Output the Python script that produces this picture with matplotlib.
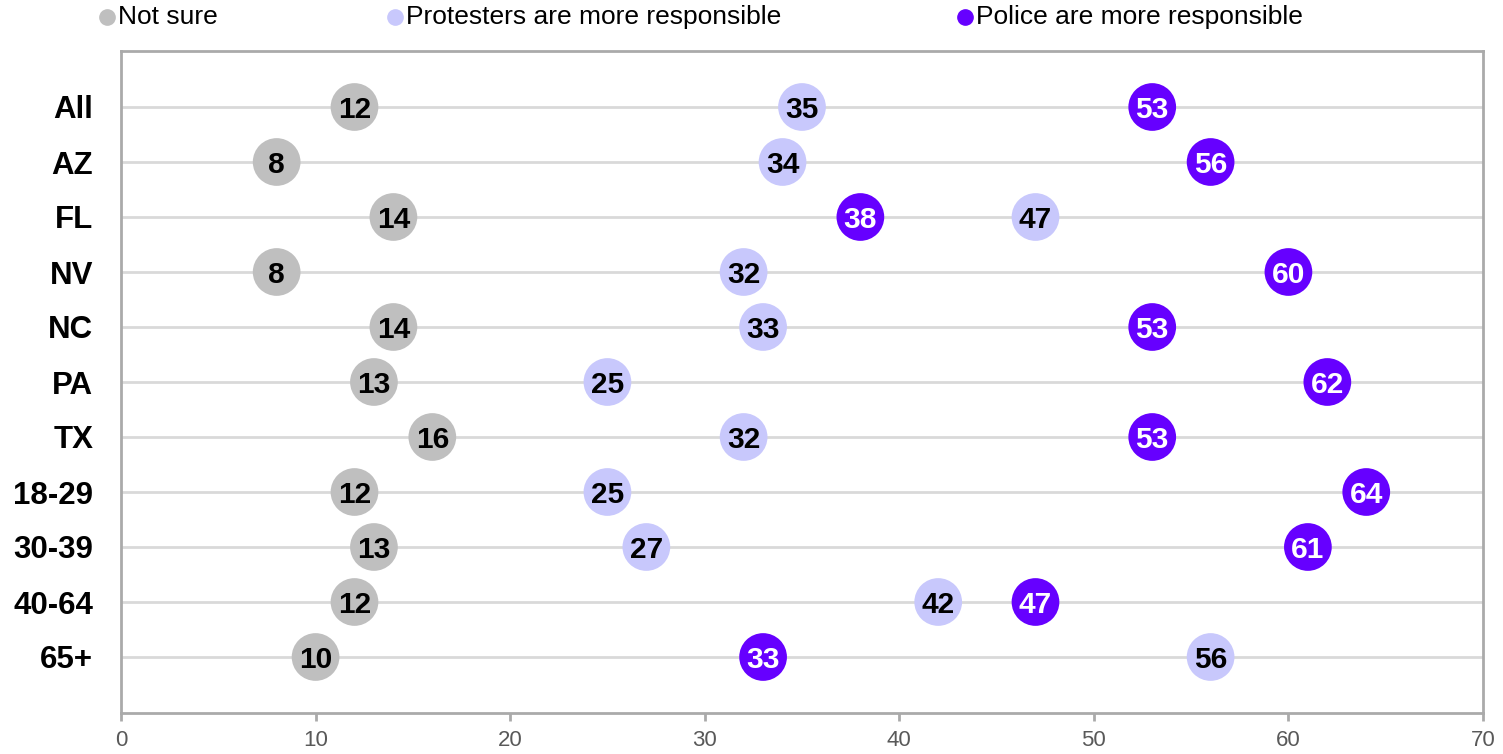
import numpy as np
import matplotlib.pyplot as plt
from matplotlib.lines import Line2D

plt.rcParams['font.family'] = ['Liberation Sans', 'DejaVu Sans']

# Datos
grupos = ['All', 'AZ', 'FL', 'NV', 'NC', 'PA', 'TX', '18-29', '30-39', '40-64', '65+']
no_seguro = [12, 8, 14, 8, 14, 13, 16, 12, 13, 12, 10]
manifestantes = [35, 34, 47, 32, 33, 25, 32, 25, 27, 42, 56]
policia = [53, 56, 38, 60, 53, 62, 53, 64, 61, 47, 33]

series = [
    ('Not sure', no_seguro, '#bfbfbf', 'black'),
    ('Protesters are more responsible', manifestantes, '#c8c8fc', 'black'),
    ('Police are more responsible', policia, '#6600ff', 'white'),
]

fig = plt.figure(figsize=(15.03, 7.54), dpi=100)
ax = fig.add_axes([121/1503, 1 - 713/754, (1483 - 121)/1503, (713 - 51)/754])

y = np.arange(len(grupos))
for yy in y:
    ax.axhline(yy, color='#d9d9d9', lw=2, zorder=1)

for nombre, valores, color, color_txt in series:
    ax.scatter(valores, y, s=1180, color=color, edgecolors='none', zorder=3)
    for v, yy in zip(valores, y):
        # baseline desplazada para centrar los dígitos en el círculo
        ax.annotate(str(v), (v, yy), xytext=(0, -7.7), textcoords='offset points',
                    ha='center', va='baseline', fontsize=21.5, fontweight='bold',
                    color=color_txt, zorder=4)

ax.set_xlim(0, 70)
ax.set_ylim(len(grupos) - 1 + 56/55, -56/55)
ax.set_xticks(range(0, 71, 10))
ax.set_yticks(y)
ax.set_yticklabels(grupos, fontsize=22.5, fontweight='bold')
ax.tick_params(axis='y', length=0, pad=20)
ax.tick_params(axis='x', length=6, width=2, color='#aaaaaa', labelcolor='#595959',
               labelsize=16, pad=6)
for s in ax.spines.values():
    s.set_color('#aaaaaa')
    s.set_linewidth(2)

# Leyenda manual
pos_leyenda = [107, 395, 965]
for (nombre, valores, color, color_txt), px in zip(series, pos_leyenda):
    fig.add_artist(Line2D([px/1503], [1 - 17/754], marker='o', markersize=11,
                          color=color, linestyle='none', transform=fig.transFigure))
    fig.text((px + 11)/1503, 1 - 17/754, nombre, fontsize=19, va='center', ha='left')

fig.savefig('out.png', dpi=100)
